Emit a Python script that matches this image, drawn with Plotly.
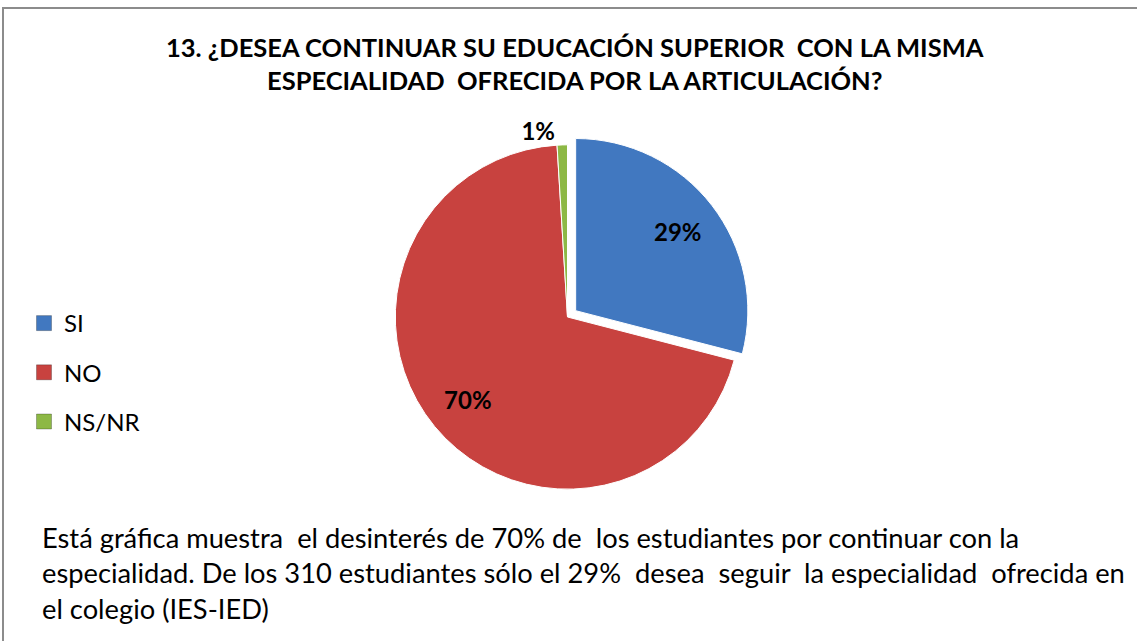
import plotly.graph_objects as go

categories = ["SI", "NO", "NS/NR"]
students = [90, 217, 3]
colors = ["#4178C0", "#C8423F", "#8DB845"]
pulls = [0.06, 0, 0]
text_positions = ["inside", "inside", "outside"]

title_text = ("<b>13. ¿DESEA CONTINUAR SU EDUCACIÓN SUPERIOR  CON LA MISMA<br>"
              "ESPECIALIDAD  OFRECIDA POR LA ARTICULACIÓN?</b>")
note_text = ("Está gráfica muestra  el desinterés de 70% de  los estudiantes por continuar con la<br>"
             "especialidad. De los 310 estudiantes sólo el 29%  desea  seguir  la especialidad  ofrecida en<br>"
             "el colegio (IES-IED)")

FONT = "Lato"
W, H = 1137, 641
pie_domain = dict(x=[385 / W, 750 / W], y=[141.5 / H, 506.5 / H])

fig = go.Figure()
# filled pie (slices)
fig.add_trace(go.Pie(
    labels=categories, values=students, sort=False, direction="clockwise", rotation=0,
    pull=pulls, marker=dict(colors=colors, line=dict(color="white", width=1)),
    textinfo="none", showlegend=False, hoverinfo="label+percent",
    domain=pie_domain,
))
# transparent overlay carrying the percentage labels (ring geometry puts them further out)
fig.add_trace(go.Pie(
    labels=categories, values=students, sort=False, direction="clockwise", rotation=0,
    pull=pulls, hole=0.5,
    marker=dict(colors=["rgba(0,0,0,0)"] * len(categories), line=dict(width=0)),
    texttemplate="%{percent:.0%}", textposition=text_positions,
    insidetextorientation="horizontal",
    textfont=dict(family=FONT, size=24, color="black", weight="bold"),
    showlegend=False, hoverinfo="skip",
    domain=pie_domain,
))

# legend entries (square swatches matching the slice colours)
for cat, col in zip(categories, colors):
    fig.add_trace(go.Scatter(
        x=[None], y=[None], mode="markers", name=cat, legendgroup=cat,
        marker=dict(symbol="square", size=15, color=col,
                    line=dict(color="rgba(0,0,0,0.25)", width=1)),
        showlegend=True, hoverinfo="skip",
    ))

fig.update_layout(
    width=W, height=H,
    margin=dict(l=0, r=0, t=0, b=0),
    paper_bgcolor="white", plot_bgcolor="white",
    xaxis=dict(visible=False), yaxis=dict(visible=False),
    showlegend=True,
    legend=dict(x=24 / W, y=1 - 301 / H, xanchor="left", yanchor="top",
                font=dict(family=FONT, size=24, color="black"),
                tracegroupgap=15, bgcolor="rgba(0,0,0,0)"),
    font=dict(family=FONT),
    shapes=[dict(type="rect", xref="paper", yref="paper",
                 x0=3 / W, x1=1.01, y0=-0.01, y1=1 - 8 / H,
                 line=dict(color="#8C8C8C", width=2), layer="above")],
    annotations=[
        dict(text=title_text, x=575 / W, y=1 - 30 / H, xref="paper", yref="paper",
             xanchor="center", yanchor="top", showarrow=False, align="center",
             font=dict(family=FONT, size=25.5, color="black")),
        dict(text=note_text, x=40 / W, y=1 - 519 / H, xref="paper", yref="paper",
             xanchor="left", yanchor="top", showarrow=False, align="left",
             font=dict(family=FONT, size=27.3, color="black")),
    ],
)

fig.write_html("out.html", config={"displayModeBar": False},
               post_script="document.body.style.margin='0';")
